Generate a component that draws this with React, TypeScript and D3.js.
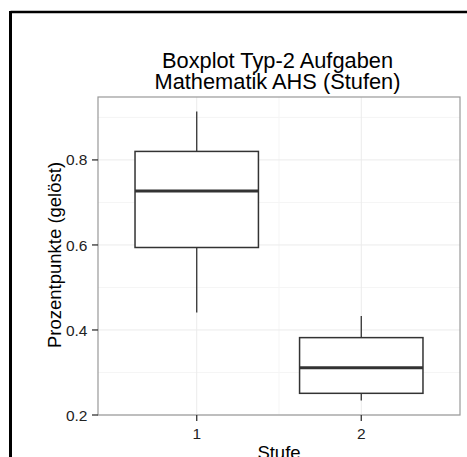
import React from 'react';
import * as d3 from 'd3';

const categories = ['1', '2'];
const whiskerLow = [0.441, 0.234];
const q1 = [0.594, 0.251];
const median = [0.727, 0.311];
const q3 = [0.82, 0.382];
const whiskerHigh = [0.914, 0.433];
const yTicks = [0.2, 0.4, 0.6, 0.8];
const yMinor = [0.3, 0.5, 0.7, 0.9];

const W = 467;
const H = 457;
const panel = { left: 98, right: 460, top: 97, bottom: 415 };
const font = '"Liberation Sans", Arial, sans-serif';

export default function App() {
  const y = d3.scaleLinear().domain([0.2, 0.948]).range([panel.bottom, panel.top]);
  const x = d3.scalePoint<string>().domain(categories).range([panel.left, panel.right]).padding(0.6);
  const boxW = x.step() * 0.75;
  const midX = ((x('1') as number) + (x('2') as number)) / 2;

  return (
    <svg width={W} height={H} style={{ position: 'absolute', left: 0, top: 0, background: '#fff' }} fontFamily={font}>
      {/* outer frame */}
      <line x1={10.5} y1={12} x2={W} y2={12} stroke="#000" strokeWidth={2.5} />
      <line x1={10.5} y1={11} x2={10.5} y2={H} stroke="#000" strokeWidth={3} />

      {/* title */}
      <text x={277.5} y={67.5} textAnchor="middle" fontSize={21.8} fill="#000">Boxplot Typ-2 Aufgaben</text>
      <text x={277.5} y={89} textAnchor="middle" fontSize={21.8} fill="#000">Mathematik AHS (Stufen)</text>

      {/* grid */}
      {yMinor.map(v => (
        <line key={'ym' + v} x1={panel.left} x2={panel.right} y1={y(v)} y2={y(v)} stroke="#f5f5f5" strokeWidth={1} />
      ))}
      <line x1={midX} x2={midX} y1={panel.top} y2={panel.bottom} stroke="#f5f5f5" strokeWidth={1} />
      {yTicks.map(v => (
        <line key={'y' + v} x1={panel.left} x2={panel.right} y1={y(v)} y2={y(v)} stroke="#ebebeb" strokeWidth={1} />
      ))}
      {categories.map(c => (
        <line key={'x' + c} x1={x(c)} x2={x(c)} y1={panel.top} y2={panel.bottom} stroke="#ebebeb" strokeWidth={1} />
      ))}

      {/* boxes */}
      {categories.map((c, i) => {
        const cx = x(c) as number;
        return (
          <g key={'b' + c} stroke="#333" fill="none">
            <line x1={cx} x2={cx} y1={y(whiskerHigh[i])} y2={y(q3[i])} strokeWidth={1.3} />
            <line x1={cx} x2={cx} y1={y(q1[i])} y2={y(whiskerLow[i])} strokeWidth={1.3} />
            <rect x={cx - boxW / 2} y={y(q3[i])} width={boxW} height={y(q1[i]) - y(q3[i])} fill="#fff" strokeWidth={1.5} />
            <line x1={cx - boxW / 2} x2={cx + boxW / 2} y1={y(median[i])} y2={y(median[i])} strokeWidth={3} />
          </g>
        );
      })}

      {/* panel border */}
      <rect x={panel.left} y={panel.top} width={panel.right - panel.left} height={panel.bottom - panel.top} fill="none" stroke="#999" strokeWidth={1.2} />

      {/* y axis */}
      {yTicks.map(v => (
        <g key={'yt' + v}>
          <line x1={panel.left - 6} x2={panel.left} y1={y(v)} y2={y(v)} stroke="#333" strokeWidth={1.3} />
          <text x={87.5} y={y(v)} dy="0.36em" textAnchor="end" fontSize={15.5} fill="#222">{d3.format('.1f')(v)}</text>
        </g>
      ))}
      {/* x axis */}
      {categories.map(c => (
        <g key={'xt' + c}>
          <line x1={x(c)} x2={x(c)} y1={panel.bottom} y2={panel.bottom + 6} stroke="#333" strokeWidth={1.3} />
          <text x={x(c)} y={438.5} textAnchor="middle" fontSize={15.5} fill="#222">{c}</text>
        </g>
      ))}

      <text x={279} y={458.5} textAnchor="middle" fontSize={18.5} fill="#000">Stufe</text>
      <text transform={`translate(61,255) rotate(-90)`} textAnchor="middle" fontSize={18.5} fill="#000">Prozentpunkte (gelöst)</text>
    </svg>
  );
}
